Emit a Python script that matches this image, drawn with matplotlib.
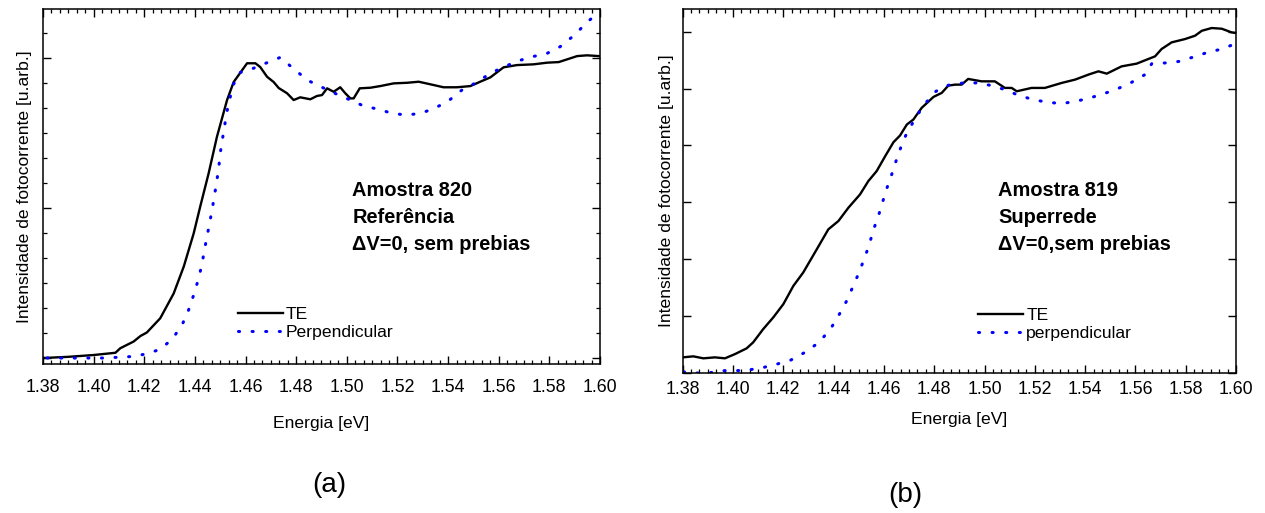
import matplotlib
matplotlib.use("Agg")
import matplotlib.pyplot as plt
from matplotlib.ticker import MultipleLocator, NullLocator, NullFormatter

plt.rcParams.update({
    "font.family": ["Liberation Sans", "DejaVu Sans"],
    "font.size": 12.6,
    "axes.linewidth": 1.1,
    "xtick.direction": "in",
    "ytick.direction": "in",
    "xtick.top": True,
    "ytick.right": True,
})

# ── data ──────────────────────────────────────────────────────────────────────
# (a) Amostra 820, referência
a_te_x = [1.380, 1.390, 1.400, 1.4086, 1.4105, 1.4158, 1.4185, 1.421, 1.4263, 1.4316,
          1.4356, 1.4395, 1.4421, 1.4454, 1.4487, 1.4527, 1.4553, 1.4606, 1.4639, 1.4658,
          1.4685, 1.4711, 1.4731, 1.4764, 1.479, 1.4816, 1.4856, 1.4882, 1.4902, 1.4922,
          1.4948, 1.4974, 1.4994, 1.5014, 1.5027, 1.5051, 1.5093, 1.5132, 1.5185, 1.5238,
          1.5284, 1.5343, 1.5382, 1.5435, 1.5488, 1.5527, 1.5567, 1.5619, 1.5672, 1.5738,
          1.5791, 1.5837, 1.587, 1.591, 1.5949, 1.5995]
a_te_y = [0.0, 0.008, 0.02, 0.035, 0.065, 0.11, 0.147, 0.17, 0.265, 0.43,
          0.61, 0.83, 1.01, 1.23, 1.475, 1.72, 1.84, 1.965, 1.965, 1.94,
          1.875, 1.84, 1.80, 1.765, 1.72, 1.738, 1.725, 1.747, 1.753, 1.798,
          1.775, 1.805, 1.765, 1.731, 1.731, 1.798, 1.802, 1.813, 1.831, 1.835,
          1.842, 1.82, 1.805, 1.805, 1.813, 1.842, 1.871, 1.938, 1.953, 1.958,
          1.969, 1.973, 1.991, 2.013, 2.018, 2.013]

a_pp_x = [1.3816, 1.3928, 1.404, 1.4151, 1.4207, 1.4263, 1.4313, 1.4353, 1.4375, 1.4395,
          1.4411, 1.4426, 1.4445, 1.4458, 1.4469, 1.4476, 1.4485, 1.4494, 1.450, 1.4508,
          1.4516, 1.4524, 1.4537, 1.4549, 1.4576, 1.463, 1.4685, 1.4737, 1.4793, 1.4846,
          1.4902, 1.4959, 1.5014, 1.5067, 1.5126, 1.5179, 1.5235, 1.5291, 1.5347, 1.5402,
          1.5455, 1.551, 1.5567, 1.5622, 1.5679, 1.5733, 1.5791, 1.5843, 1.5899, 1.5951,
          1.5999]
a_pp_y = [0.0, 0.0, 0.0, 0.01, 0.027, 0.058, 0.13, 0.235, 0.32, 0.42,
          0.51, 0.61, 0.787, 0.898, 1.0, 1.07, 1.165, 1.265, 1.365, 1.453,
          1.53, 1.625, 1.72, 1.813, 1.902, 1.931, 1.969, 2.004, 1.924, 1.851,
          1.805, 1.76, 1.72, 1.68, 1.658, 1.631, 1.62, 1.631, 1.665, 1.715,
          1.787, 1.835, 1.898, 1.942, 1.982, 2.009, 2.031, 2.076, 2.153, 2.242,
          2.309]

# (b) Amostra 819, superrede
b_te_x = [1.380, 1.3842, 1.3882, 1.3928, 1.3968, 1.4008, 1.4054, 1.408, 1.412, 1.416,
          1.420, 1.424, 1.4279, 1.4333, 1.4379, 1.4419, 1.4459, 1.4505, 1.4538, 1.4571,
          1.4605, 1.4638, 1.4664, 1.4691, 1.4717, 1.475, 1.4797, 1.483, 1.4856, 1.4883,
          1.4909, 1.4935, 1.4988, 1.5041, 1.5081, 1.5108, 1.5128, 1.5187, 1.524, 1.5307,
          1.536, 1.5413, 1.5453, 1.5486, 1.5545, 1.5605, 1.5651, 1.5678, 1.5704, 1.5744,
          1.5797, 1.5837, 1.5864, 1.5903, 1.5943, 1.5983, 1.600]
b_te_y = [0.275, 0.293, 0.258, 0.275, 0.258, 0.333, 0.433, 0.538, 0.772, 0.977,
          1.21, 1.532, 1.766, 2.175, 2.526, 2.672, 2.907, 3.14, 3.374, 3.549,
          3.812, 4.058, 4.175, 4.368, 4.456, 4.661, 4.854, 4.925, 5.053, 5.07,
          5.07, 5.17, 5.128, 5.128, 5.012, 5.012, 4.953, 5.012, 5.012, 5.10,
          5.158, 5.246, 5.304, 5.263, 5.391, 5.439, 5.52, 5.567, 5.696, 5.813,
          5.871, 5.93, 6.017, 6.065, 6.053, 5.988, 5.977]

b_pp_x = [1.3803, 1.3849, 1.3902, 1.3955, 1.4011, 1.4068, 1.4123, 1.4176, 1.423, 1.4286,
          1.4342, 1.4389, 1.4423, 1.4452, 1.4478, 1.4501, 1.4522, 1.4541, 1.4558, 1.4578,
          1.4594, 1.4611, 1.4631, 1.4648, 1.4668, 1.4691, 1.4724, 1.4757, 1.4807, 1.4862,
          1.4918, 1.4975, 1.5028, 1.5081, 1.5138, 1.5194, 1.5249, 1.5307, 1.5364, 1.5419,
          1.5472, 1.5528, 1.5585, 1.5638, 1.5665, 1.5718, 1.5775, 1.5831, 1.5887, 1.5944,
          1.5997]
b_pp_y = [0.02, 0.0, 0.0, 0.04, 0.04, 0.058, 0.10, 0.158, 0.228, 0.363,
          0.538, 0.784, 1.035, 1.269, 1.532, 1.766, 2.012, 2.246, 2.514, 2.76,
          2.995, 3.24, 3.491, 3.725, 3.977, 4.222, 4.468, 4.702, 4.953, 5.07,
          5.10, 5.10, 5.053, 4.982, 4.877, 4.807, 4.76, 4.737, 4.777, 4.836,
          4.907, 4.995, 5.111, 5.246, 5.439, 5.451, 5.479, 5.556, 5.637, 5.696,
          5.789]

a_note = ["Amostra 820", "Referência", "ΔV=0, sem prebias"]
b_note = ["Amostra 819", "Superrede", "ΔV=0,sem prebias"]
a_labels = ["TE", "Perpendicular"]
b_labels = ["TE", "perpendicular"]

DOT = (0, (0.35, 4.1))

# ── plot ──────────────────────────────────────────────────────────────────────
fig = plt.figure(figsize=(12.65, 5.13), dpi=100)
ax_a = fig.add_axes([0.034, 0.2904, 0.4403, 0.6921])
ax_b = fig.add_axes([0.5397, 0.2729, 0.4374, 0.7096])

# per panel: ylim, y minor count, legend anchor, note anchor, x tick pad, xlabel pad, ylabel pad
panels = [
    (ax_a, a_te_x, a_te_y, a_pp_x, a_pp_y, a_labels, a_note,
     (-0.04, 2.327), 6, (0.35, 0.114), (0.555, [0.473, 0.397, 0.321]), 11, 14, 4.5),
    (ax_b, b_te_x, b_te_y, b_pp_x, b_pp_y, b_labels, b_note,
     (0.0, 6.40), 0, (0.534, 0.133), (0.57, [0.486, 0.412, 0.338]), 6, 9.5, 6.5),
]

for (ax, tx, ty, px, py, labels, note, ylim, nminor, leg_xy, note_xy,
     xpad, xlpad, ylpad) in panels:
    ax.plot(tx, ty, color="black", lw=1.7, label=labels[0])
    ax.plot(px, py, color="#0000FF", lw=2.2, linestyle=DOT,
            dash_capstyle="round", label=labels[1])

    ax.set_xlim(1.38, 1.60)
    ax.set_ylim(*ylim)
    ax.xaxis.set_major_locator(MultipleLocator(0.02))
    ax.xaxis.set_minor_locator(MultipleLocator(0.02 / 6))
    ax.xaxis.set_major_formatter(plt.FuncFormatter(lambda v, p: f"{v:.2f}"))
    ax.yaxis.set_major_locator(MultipleLocator(1.0))
    if nminor:
        ax.yaxis.set_minor_locator(MultipleLocator(1.0 / nminor))
    else:
        ax.yaxis.set_minor_locator(NullLocator())
    ax.yaxis.set_major_formatter(NullFormatter())
    ax.tick_params(which="major", length=5.5, width=1.0, labelsize=12.8)
    ax.tick_params(which="minor", length=3, width=0.9)
    ax.tick_params(axis="x", pad=xpad)
    ax.tick_params(axis="y", pad=0)

    ax.set_xlabel("Energia [eV]", fontsize=12.6, labelpad=xlpad)
    ax.set_ylabel("Intensidade de fotocorrente [u.arb.]", fontsize=12.6, labelpad=ylpad)

    ax.legend(loc="center left", bbox_to_anchor=leg_xy, frameon=False,
              borderpad=0, borderaxespad=0, handlelength=2.55,
              handletextpad=0.2, labelspacing=0.15, fontsize=12.6)

    nx, nys = note_xy
    for line, ny in zip(note, nys):
        ax.text(nx, ny, line, transform=ax.transAxes, fontsize=14.4,
                fontweight="bold", va="baseline", ha="left")

fig.text(329 / 1265, 1 - 485 / 513, "(a)", fontsize=20, ha="center", va="center")
fig.text(905 / 1265, 1 - 495 / 513, "(b)", fontsize=20, ha="center", va="center")

fig.savefig("out.png", dpi=100)
plt.close(fig)
